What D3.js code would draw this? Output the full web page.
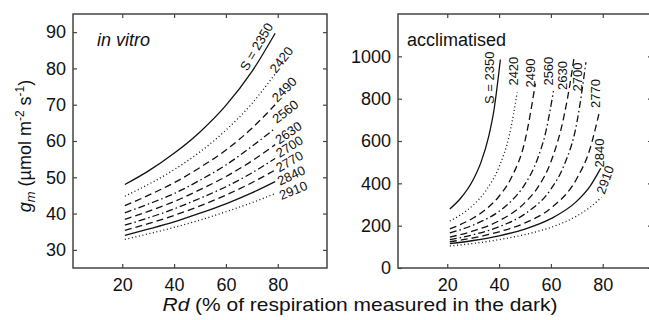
<!DOCTYPE html>
<html>
<head>
<meta charset="utf-8">
<script src="https://cdn.jsdelivr.net/npm/d3@7"></script>
<style>
  body { margin: 0; background: #fff; }
  text { font-family: "Liberation Sans", Arial, sans-serif; fill: #111; }
</style>
</head>
<body>
<div id="chart"></div>
<script>
// specificity factors, one curve per value
const sValues = [2350, 2420, 2490, 2560, 2630, 2700, 2770, 2840, 2910];

// in vitro panel: gm against Rd
const rdInVitro = [21, 30, 40, 50, 60, 70, 79];
const gmInVitro = [
  [48.0, 51.7, 56.6, 62.5, 69.8, 79.1, 89.7],
  [44.8, 48.0, 52.1, 57.0, 63.0, 70.3, 78.5],
  [42.2, 45.0, 48.5, 52.7, 57.5, 63.5, 70.0],
  [40.2, 42.6, 45.5, 49.2, 53.4, 58.5, 63.5],
  [38.4, 40.6, 43.3, 46.6, 50.2, 54.5, 59.0],
  [36.8, 38.8, 41.3, 44.2, 47.4, 51.2, 55.2],
  [35.4, 37.2, 39.5, 42.1, 45.1, 48.5, 52.0],
  [34.0, 35.7, 37.7, 40.1, 42.7, 45.7, 48.8],
  [32.9, 34.4, 36.2, 38.2, 40.5, 43.0, 45.5]
];

// acclimatised panel: each curve stops at its own Rd
const rdAccl = [
  [21, 25, 30, 33, 36, 38, 40.5],
  [21, 25, 30, 35, 40, 44, 47],
  [21, 25, 30, 35, 40, 45, 50, 54],
  [21, 30, 40, 45, 50, 55, 58, 61],
  [21, 30, 40, 50, 55, 60, 65, 67.5, 69],
  [21, 30, 40, 50, 60, 65, 70, 73.5],
  [21, 30, 40, 50, 60, 70, 75, 78.5],
  [21, 30, 40, 50, 60, 70, 75, 79.2],
  [21, 30, 40, 50, 60, 70, 75, 79.5]
];
const gmAccl = [
  [279, 327, 417, 499, 622, 744, 985],
  [222, 250, 297, 367, 478, 630, 830],
  [185, 205, 236, 278, 339, 433, 601, 871],
  [166, 203, 268, 320, 396, 521, 642, 837],
  [146, 175, 223, 309, 382, 502, 715, 880, 1000],
  [134, 157, 195, 256, 373, 483, 686, 972],
  [124, 142, 171, 213, 283, 423, 560, 727],
  [115, 130, 152, 184, 233, 316, 385, 471],
  [104, 116, 134, 158, 192, 246, 286, 334]
];

// curve labels: [Rd, gm, angle]
const labelsInVitro = [
  [71.8, 86.0, -60], [81.4, 82.4, -52], [82.5, 74.2, -45],
  [82.9, 68.1, -38], [84.1, 62.3, -35], [84.5, 58.5, -32],
  [84.5, 54.4, -30], [85.2, 50.5, -25], [86.0, 46.4, -22]
];
const labelsAccl = [
  [36.3, 899, -90], [45.5, 930, -90], [52.0, 921, -90],
  [59.0, 930, -90], [64.6, 909, -90], [70.4, 902, -90],
  [77.0, 824, -90], [78.6, 543, -90], [80.9, 417, -70]
];

const xTicks = [20, 40, 60, 80];
const yTicksInVitro = [30, 40, 50, 60, 70, 80, 90];
const yTicksAccl = [0, 200, 400, 600, 800, 1000];

const dashes = ["", "1,2.6", "7,4", "7,3,1.5,3", "7,4", "7,3,1.5,3", "7,4", "", "1,2.6"];

const W = 649, H = 320;
const plotTop = 14, plotBottom = 268, plotW = 254;

const svg = d3.select("#chart").append("svg")
  .attr("width", W)
  .attr("height", H);

function drawPanel(left, yDomain, yTicks, rdArrays, gmArrays, labels, title, titleItalic) {
  const x = d3.scaleLinear().domain([1, 99]).range([left, left + plotW]);
  const y = d3.scaleLinear().domain(yDomain).range([plotBottom, plotTop]);
  const g = svg.append("g");

  const axisStyle = sel => {
    sel.select(".domain").remove();
    sel.selectAll(".tick line").attr("stroke", "#444").attr("stroke-width", 1.2);
    sel.selectAll(".tick text").style("font-size", "18px").attr("fill", "#111");
  };

  g.append("g")
    .attr("transform", `translate(0,${plotBottom})`)
    .call(d3.axisBottom(x).tickValues(xTicks).tickSizeInner(-4).tickSizeOuter(0).tickPadding(10))
    .call(axisStyle);
  g.append("g")
    .attr("transform", `translate(0,${plotTop})`)
    .call(d3.axisTop(x).tickValues(xTicks).tickSizeInner(-4).tickSizeOuter(0).tickFormat(""))
    .call(axisStyle);
  g.append("g")
    .attr("transform", `translate(${left},0)`)
    .call(d3.axisLeft(y).tickValues(yTicks).tickFormat(d3.format("d")).tickSizeInner(-4).tickSizeOuter(0).tickPadding(7))
    .call(axisStyle);
  g.append("g")
    .attr("transform", `translate(${left + plotW},0)`)
    .call(d3.axisRight(y).tickValues(yTicks).tickSizeInner(-4).tickSizeOuter(0).tickFormat(""))
    .call(axisStyle);

  g.append("rect")
    .attr("x", left).attr("y", plotTop)
    .attr("width", plotW).attr("height", plotBottom - plotTop)
    .attr("fill", "none").attr("stroke", "#444").attr("stroke-width", 1.5);

  const line = d3.line()
    .curve(d3.curveMonotoneX)
    .x(d => x(d[0]))
    .y(d => y(d[1]));

  sValues.forEach((s, i) => {
    const pts = rdArrays[i].map((r, j) => [r, gmArrays[i][j]]);
    g.append("path")
      .datum(pts)
      .attr("d", line)
      .attr("fill", "none")
      .attr("stroke", "#111")
      .attr("stroke-width", 1.3)
      .attr("stroke-dasharray", dashes[i]);

    const lb = labels[i];
    g.append("text")
      .attr("transform", `translate(${x(lb[0])},${y(lb[1])}) rotate(${lb[2]})`)
      .attr("text-anchor", "middle")
      .attr("dy", "0.35em")
      .style("font-size", "13px")
      .text(i === 0 ? "S = " + s : s);
  });

  g.append("text")
    .attr("x", left + (titleItalic ? 24 : 9))
    .attr("y", 46)
    .style("font-size", "18px")
    .style("font-style", titleItalic ? "italic" : "normal")
    .text(title);
}

drawPanel(73, [25, 95], yTicksInVitro,
  sValues.map(() => rdInVitro), gmInVitro, labelsInVitro, "in vitro", true);
drawPanel(398, [0, 1200], yTicksAccl,
  rdAccl, gmAccl, labelsAccl, "acclimatised", false);

// y axis title
const yTitle = svg.append("text")
  .attr("transform", "translate(31,146) rotate(-90)")
  .attr("text-anchor", "middle")
  .style("font-size", "18px");
yTitle.append("tspan").style("font-style", "italic").text("g");
yTitle.append("tspan").style("font-style", "italic").style("font-size", "13px").attr("dy", 4).text("m");
yTitle.append("tspan").attr("dy", -4).text(" (µmol m");
yTitle.append("tspan").style("font-size", "12px").attr("dy", -7).text("-2");
yTitle.append("tspan").attr("dy", 7).text(" s");
yTitle.append("tspan").style("font-size", "12px").attr("dy", -7).text("-1");
yTitle.append("tspan").attr("dy", 7).text(")");

// x axis title
const xTitle = svg.append("text")
  .attr("x", 360)
  .attr("y", 311)
  .attr("text-anchor", "middle")
  .attr("textLength", 395)
  .attr("lengthAdjust", "spacingAndGlyphs")
  .style("font-size", "19px");
xTitle.append("tspan").style("font-style", "italic").text("Rd");
xTitle.append("tspan").text(" (% of respiration measured in the dark)");
</script>
</body>
</html>
